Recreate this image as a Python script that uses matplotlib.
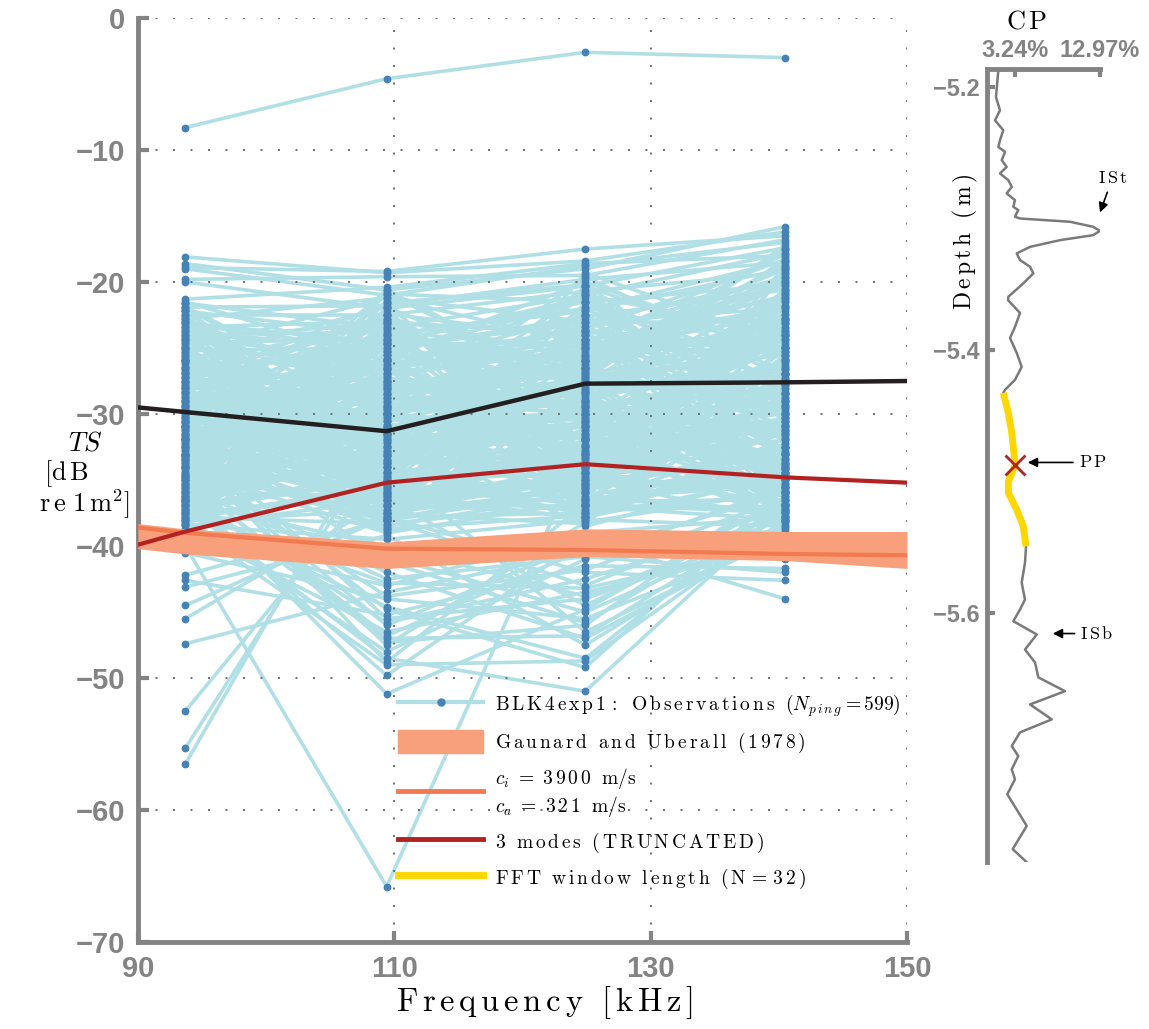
import numpy as np
import matplotlib
matplotlib.use("Agg")
import matplotlib.pyplot as plt
from matplotlib.lines import Line2D
from matplotlib.patches import Patch

plt.rcParams["mathtext.fontset"] = "cm"

GREY = "#838383"
OBS = "#b0e0e6"
DOT = "#4682b4"
BAND = "#f7a07b"
BAND_LINE = "#f27a50"
RED = "#b22222"
BLACK = "#231f20"
YELLOW = "#ffd700"

# measurement frequencies (kHz)
freqs = [93.7, 109.4, 124.9, 140.5]

# TS per ping (dB re 1 m^2), one array per frequency
ts_f1 = [-8.3, -18.1, -18.6, -18.9, -19.0, -19.8, -20.0, -21.3, -21.6, -21.9, -22.2,
         -22.5, -22.8, -23.1, -23.4, -23.7, -24.0, -24.3, -24.6, -24.9, -25.2,
         -25.5, -25.8, -26.1, -26.4, -26.7, -27.0, -27.3, -27.6, -27.9, -28.2,
         -28.5, -28.8, -29.1, -29.4, -29.7, -30.0, -30.3, -30.6, -30.9, -31.2,
         -31.5, -31.8, -32.1, -32.4, -32.7, -33.0, -33.3, -33.6, -33.9, -34.2,
         -34.5, -34.8, -35.1, -35.4, -35.7, -36.0, -36.3, -36.6, -36.9, -37.2,
         -37.5, -37.8, -38.1, -38.4, -25.3, -26.9, -28.0, -29.3, -30.7, -32.3,
         -33.8, -35.3, -36.8, -31.0, -34.0, -39.0, -39.5, -40.0, -40.5, -42.2,
         -42.6, -43.1, -44.5, -45.5, -47.4, -52.5, -55.3, -56.5, -38.7, -37.9,
         -38.3, -36.5, -35.8, -37.0, -34.9, -36.2, -33.5, -37.6, -35.5, -38.9,
         -32.6, -34.6, -36.7, -33.2,
         -22.0, -23.5, -25.0, -26.5, -28.0, -29.5, -31.0, -32.5, -34.0, -35.5,
         -37.0, -38.5, -21.5, -23.0, -24.5, -26.0, -27.5, -29.0, -30.5, -32.0,
         -33.5, -35.0, -36.5, -38.0, -22.7, -24.2, -25.7, -27.2, -28.7, -30.2,
         -31.7, -33.2, -34.7, -36.2, -37.7, -23.8, -25.9, -28.3, -30.8, -33.1,
         -35.2, -37.3, -29.8, -27.7, -31.9, -36.4,
         -34.0, -31.5, -36.0, -33.0, -37.4, -35.0, -30.5,
         -21.7, -22.4, -23.3, -24.1, -24.8, -25.6, -26.2, -27.1, -27.8, -28.6,
         -29.2, -30.1, -30.9, -31.6, -32.2, -33.1, -33.7, -34.5, -35.3, -36.1,
         -36.9, -37.6, -38.2, -21.9, -22.9, -23.6, -24.4, -25.4, -26.0, -26.8,
         -27.5, -28.3, -29.0, -29.9, -30.4, -31.3, -32.0, -32.8, -33.5, -34.3,
         -34.9, -35.8, -36.6, -37.3, -38.3, -22.2, -23.0, -23.9, -24.6, -25.1,
         -26.4, -27.3, -28.0, -28.9, -29.6, -30.6, -31.1, -31.9, -32.6, -33.3,
         -34.1, -34.8, -35.6, -36.3, -37.1, -37.9, -22.6, -24.3, -25.9, -27.6,
         -29.4, -31.4, -33.0, -34.6, -36.4, -38.0, -23.2, -25.0, -26.6, -28.4,
         -30.2, -32.4, -34.0, -35.9, -37.4, -22.1, -26.9, -31.8, -36.7, -29.7]
ts_f2 = [-4.6, -19.3, -20.6, -19.2, -21.0, -19.6, -22.0, -20.4, -23.5, -21.8, -24.0,
         -22.5, -21.2, -24.6, -23.0, -25.2, -23.8, -25.8, -24.3, -26.4, -25.0,
         -27.0, -28.5, -26.0, -29.5, -27.6, -31.0, -28.2, -30.3, -29.0, -32.0,
         -28.8, -33.0, -30.0, -34.0, -31.5, -35.0, -32.5, -35.8, -33.5, -36.5,
         -34.5, -37.0, -35.5, -37.5, -36.0, -38.0, -36.8, -38.5, -37.8, -39.0,
         -26.5, -28.0, -29.8, -31.8, -33.8, -25.5, -27.3, -30.8, -32.8, -34.8,
         -36.3, -38.3, -37.3, -39.5, -33.2, -35.3, -36.6, -24.8, -26.2, -27.8,
         -29.3, -30.5, -32.2, -33.7, -24.3, -41.5, -43.0, -65.8, -44.0, -38.0,
         -45.2, -39.2, -37.8, -36.5, -43.5, -34.0, -31.5, -30.0, -46.5, -48.0,
         -49.0, -49.8, -51.2, -48.5, -47.3, -45.8, -46.0, -44.6, -42.5, -40.8,
         -48.8, -42.0, -40.0, -47.5,
         -30.0, -32.5, -35.0, -37.0, -22.5, -24.5, -26.5, -28.5, -30.5, -32.5,
         -34.5, -36.5, -26.0, -28.0, -30.0, -32.0, -34.0, -36.0, -38.0, -23.5,
         -25.5, -27.5, -29.5, -31.5, -33.5, -35.5, -37.5, -22.8, -24.0, -25.8,
         -27.7, -29.6, -31.6, -33.6, -35.6, -37.6, -21.9, -23.2, -36.2, -38.8,
         -20.9, -34.9, -37.9, -21.6, -27.1, -30.9,
         -43.8, -45.5, -47.0, -44.8, -42.8, -46.8, -41.2,
         -38.6, -37.8, -37.0, -36.1, -35.4, -34.6, -33.7, -32.9, -32.1, -31.2,
         -30.5, -29.6, -28.8, -28.0, -27.2, -26.3, -25.5, -24.7, -23.9, -23.0,
         -22.2, -21.4, -20.8, -29.4, -30.2, -31.0, -31.9, -32.7, -33.5, -34.3,
         -35.1, -36.0, -36.8, -37.6, -38.4, -21.6, -22.5, -23.3, -24.1, -25.0,
         -25.8, -26.6, -27.4, -28.3, -29.0, -34.0, -35.7, -37.3, -38.9, -21.2,
         -22.8, -24.4, -26.0, -27.6, -29.2, -30.8, -32.4, -33.1, -34.8, -36.4,
         -38.1, -22.0, -23.6, -25.3, -26.9, -28.5, -36.9, -23.1, -33.2, -26.7,
         -30.1, -38.0, -24.6, -31.5, -27.9, -35.3, -25.2, -37.4, -28.7, -22.4,
         -34.4, -31.7, -20.6, -36.2, -29.9, -33.0, -38.7, -22.9, -27.0, -35.8]
ts_f3 = [-2.6, -18.4, -19.0, -17.5, -18.8, -19.5, -20.3, -18.6, -21.0, -19.8, -22.2,
         -20.7, -23.0, -21.5, -24.0, -22.6, -25.0, -23.6, -26.0, -24.4, -26.8,
         -25.2, -27.5, -25.8, -28.2, -26.4, -29.0, -27.0, -30.0, -27.8, -31.0,
         -28.6, -29.5, -31.8, -30.5, -32.5, -31.2, -33.3, -32.0, -34.0, -33.0,
         -34.8, -33.8, -35.5, -34.5, -36.2, -35.2, -37.0, -36.0, -37.5, -36.6,
         -24.8, -26.6, -28.9, -30.8, -32.8, -27.3, -29.8, -31.6, -33.6, -35.8,
         -37.3, -36.8, -35.0, -38.0, -34.3, -36.4, -37.8, -23.0, -25.5, -27.2,
         -28.4, -30.2, -32.3, -29.2, -35.3, -40.2, -39.0, -32.4, -45.5, -43.0,
         -41.5, -47.5, -42.0, -44.5, -40.5, -46.5, -38.5, -37.8, -43.5, -41.0,
         -48.7, -39.5, -44.8, -51.0, -46.0, -42.5, -39.8, -48.5, -40.8, -45.0,
         -36.8, -47.0, -43.8, -38.2,
         -24.5, -27.0, -29.5, -32.0, -34.5, -37.0, -22.5, -25.0, -27.5, -30.0,
         -32.5, -35.0, -32.0, -34.5, -37.5, -24.0, -26.5, -29.0, -31.5, -34.0,
         -36.5, -23.3, -26.0, -28.3, -30.6, -33.0, -35.6, -37.8, -22.0, -24.3,
         -26.8, -29.3, -31.8, -34.2, -36.8, -38.3, -28.0, -30.9, -33.2, -25.6,
         -21.5, -23.8, -36.0, -20.2, -35.4, -30.4,
         -41.8, -44.0, -46.8, -49.2, -43.2, -40.2, -45.8,
         -27.9, -31.4, -34.8, -37.9, -20.3, -23.6, -26.7, -30.0, -33.3, -36.6,
         -19.6, -22.8, -25.9, -29.1, -32.4, -35.7, -21.4, -24.6, -27.6, -30.7,
         -33.9, -37.2, -28.5, -36.3, -33.5, -30.3, -27.1, -24.0, -20.8, -37.6,
         -34.4, -31.2, -28.1, -24.9, -21.9, -35.1, -32.0, -29.3, -26.2, -23.1,
         -20.0, -33.0, -29.7, -26.3, -22.4, -20.6, -21.6, -22.6, -23.7, -24.7,
         -25.7, -26.5, -27.5, -28.8, -29.9, -30.9, -31.8, -32.7, -33.7, -34.6,
         -35.5, -36.4, -37.4, -38.0, -25.1, -31.0, -19.3, -37.0, -23.4, -34.1,
         -27.3, -30.5, -21.2, -35.9, -26.0, -32.9, -36.9, -22.1, -29.5, -24.3,
         -33.1, -20.4, -28.3, -35.3, -31.6, -25.4, -37.7, -30.1, -21.0, -34.9]
ts_f4 = [-3.0, -16.2, -15.8, -16.5, -17.0, -16.8, -17.4, -18.0, -17.8, -18.5, -19.0,
         -19.3, -19.8, -20.2, -19.6, -20.6, -21.0, -18.3, -21.5, -22.0, -20.0,
         -22.5, -23.0, -23.8, -24.5, -22.8, -25.3, -24.0, -26.0, -25.0, -27.0,
         -26.5, -28.0, -27.5, -29.0, -28.5, -30.0, -29.5, -31.0, -30.5, -32.0,
         -31.5, -33.0, -32.5, -34.0, -33.5, -35.0, -34.5, -35.5, -36.0, -36.5,
         -27.8, -29.8, -31.8, -33.8, -35.8, -24.3, -26.3, -28.3, -30.3, -32.3,
         -37.0, -37.5, -38.0, -38.5, -36.8, -37.3, -34.8, -22.0, -23.5, -25.5,
         -27.3, -29.3, -31.3, -33.3, -35.3, -38.8, -37.8, -30.8, -39.5, -36.8,
         -41.7, -38.2, -42.6, -37.3, -36.0, -39.2, -34.5, -33.0, -40.0, -35.5,
         -38.0, -44.0, -36.3, -37.0, -35.2, -37.7, -41.0, -36.6, -42.0, -38.4,
         -34.2, -39.0, -37.9, -35.8,
         -33.0, -30.0, -27.0, -24.0, -29.5, -32.5, -35.5, -21.8, -24.8, -27.8,
         -30.8, -33.8, -37.8, -26.0, -28.8, -31.5, -34.5, -37.5, -23.2, -25.8,
         -28.5, -31.2, -34.2, -37.2, -20.8, -22.8, -25.0, -27.0, -29.0, -31.0,
         -33.0, -35.0, -37.0, -20.5, -23.6, -26.6, -36.2, -34.0, -21.2, -24.1,
         -27.6, -32.8, -18.8, -30.5, -25.2, -33.6,
         -36.4, -38.6, -37.4, -35.6, -39.8, -40.6, -36.9,
         -17.2, -36.2, -21.8, -31.9, -25.6, -28.9, -18.6, -35.0, -23.1, -33.4,
         -26.9, -30.3, -19.9, -37.7, -24.3, -32.6, -27.8, -17.9, -34.4, -22.4,
         -29.6, -20.7, -36.8, -23.7, -26.4, -29.1, -31.7, -34.7, -37.4, -19.2,
         -21.4, -24.9, -27.3, -30.0, -32.9, -35.6, -38.2, -18.2, -20.3, -22.9,
         -25.3, -28.4, -31.2, -33.9, -36.5, -32.2, -29.9, -27.5, -25.0, -22.2,
         -19.6, -17.5, -37.1, -34.9, -32.5, -30.6, -28.1, -25.8, -23.4, -21.1,
         -18.9, -35.4, -33.1, -26.1, -20.1, -36.0, -24.6, -38.0, -21.3, -30.9,
         -17.6, -34.2, -27.0, -19.4, -36.9, -29.3, -31.4, -18.4, -26.7, -35.9,
         -22.7, -33.7, -20.9, -28.7, -37.3, -19.0, -25.5, -34.6, -23.9, -30.2]

# model curves
model_freq = [90, 93.7, 109.4, 124.9, 140.5, 150]
ts_black = [-29.5, -29.85, -31.3, -27.7, -27.6, -27.5]
ts_modes3 = [-39.9, -38.9, -35.2, -33.8, -34.8, -35.2]
gu_mid = [-38.6, -39.0, -40.2, -40.3, -40.6, -40.7]
gu_hi = [-38.3, -38.7, -39.7, -38.7, -38.9, -38.9]
gu_lo = [-40.2, -40.6, -41.7, -40.8, -41.1, -41.7]

# CP profile (percent vs depth in m)
cp_pct = [1.30, 1.03, 1.49, 0.92, 1.87, 1.49, 1.30, 2.07, 1.69, 2.26, 1.49, 2.45,
          2.84, 2.26, 3.21, 3.02, 3.59, 3.21, 3.79, 9.53, 12.17, 12.97, 12.17, 8.38,
          4.94, 3.41, 3.79, 4.94, 5.32, 4.17, 2.45, 2.41, 3.79, 3.21, 2.64, 3.41,
          3.98, 3.21, 2.07, 1.87, 2.45, 2.84, 3.24, 2.45, 2.45, 3.41, 4.17, 4.48,
          4.36, 3.98, 4.36, 3.79, 3.02, 5.71, 4.36, 5.51, 5.89, 8.95, 4.94, 7.43,
          3.79, 2.84, 3.59, 2.84, 3.21, 2.33, 4.56, 2.95, 4.56]
cp_depth = [-5.187, -5.2074, -5.2175, -5.2251, -5.2327, -5.2403, -5.2454, -5.2492,
            -5.2555, -5.2606, -5.2656, -5.2707, -5.2758, -5.2808, -5.2859, -5.2910,
            -5.2935, -5.2986, -5.2999, -5.3024, -5.3062, -5.3093, -5.3126, -5.3164,
            -5.3215, -5.3265, -5.3316, -5.3367, -5.3417, -5.3493, -5.3595, -5.3620,
            -5.3719, -5.3825, -5.3909, -5.4023, -5.4129, -5.4228, -5.4304, -5.4327,
            -5.4479, -5.4631, -5.4875, -5.5002, -5.5088, -5.5217, -5.5344, -5.5496,
            -5.5620, -5.5772, -5.5901, -5.5977, -5.6066, -5.6167, -5.6282, -5.6380,
            -5.6494, -5.6599, -5.6700, -5.6814, -5.6913, -5.7017, -5.7093, -5.7194,
            -5.7270, -5.7384, -5.7625, -5.7802, -5.7902]
fft_top, fft_bottom = -5.4327, -5.5496
pp_pct, pp_depth = 3.24, -5.4875
n_ping = 599


def tracked(s):
    # letter-spaced roman text for mathtext
    out = []
    for ch in s:
        out.append(r"\ " if ch == " " else ch)
    return r"\,".join(out)


def rm(s):
    return r"$\mathrm{" + tracked(s) + "}$"


fig = plt.figure(figsize=(11.49, 10.29), dpi=100)
ax = fig.add_axes([0.1201, 0.0845, 0.6693, 0.898])

ts = np.column_stack([ts_f1, ts_f2, ts_f3, ts_f4])
ax.plot(freqs, ts.T, color=OBS, lw=2.6, zorder=1, solid_capstyle="round")
ax.plot(freqs, ts.T, ls="none", marker="o", ms=4.6, color=DOT, zorder=2)

ax.fill_between(model_freq, gu_lo, gu_hi, color=BAND, lw=0, zorder=3)
ax.plot(model_freq, gu_mid, color=BAND_LINE, lw=3, zorder=4)
ax.plot(model_freq, ts_modes3, color=RED, lw=3, zorder=5)
ax.plot(model_freq, ts_black, color=BLACK, lw=3.2, zorder=6)

ax.set_xlim(90, 150)
ax.set_ylim(-70, 0)
ax.set_xticks([90, 110, 130, 150])
ax.set_yticks(range(-70, 1, 10))
ax.grid(True, color="#6e6e6e", lw=1.4, ls=(0, (1, 8)))
for s in ["top", "right"]:
    ax.spines[s].set_visible(False)
for s in ["left", "bottom"]:
    ax.spines[s].set_color(GREY)
    ax.spines[s].set_linewidth(3.5)
ax.tick_params(direction="in", length=8, width=3, color=GREY, labelcolor=GREY,
               labelsize=21, pad=9)
for lab in ax.get_xticklabels() + ax.get_yticklabels():
    lab.set_fontfamily("Liberation Sans")
    lab.set_fontweight("bold")

ax.set_xlabel(rm("Frequency [kHz]"), fontsize=23.5)
ax.xaxis.set_label_coords(0.529, -0.046)
fig.text(0.059, 0.569, r"$TS$", fontsize=19, ha="left", va="center")
fig.text(0.038, 0.540, r"$\mathrm{[d\,B}$", fontsize=19, ha="left", va="center")
fig.text(0.034, 0.510, r"$\mathrm{r\,e\ 1\,m^2]}$", fontsize=19, ha="left", va="center")

handles = [
    Line2D([], [], color=OBS, lw=3, marker="o", ms=5, mfc=DOT, mec=DOT),
    Patch(facecolor=BAND, edgecolor=BAND),
    Line2D([], [], color=BAND_LINE, lw=3.5),
    Line2D([], [], color=RED, lw=3.5),
    Line2D([], [], color=YELLOW, lw=5),
]
labels = [
    r"$\mathrm{" + tracked("BLK4exp1: Observations (") + r"}N_{p\,i\,n\,g}\mathrm{=" + str(n_ping) + ")}$",
    rm("Gaunard and Uberall (1978)"),
    r"$c_i\ =\ \mathrm{3\,9\,0\,0\ \ m/s}$" + "\n" + r"$c_a\ =\ \mathrm{3\,2\,1\ \ m/s}$",
    rm("3 modes (TRUNCATED)"),
    rm("FFT window length (N=32)"),
]
ax.legend(handles, labels, loc="upper left", bbox_to_anchor=(0.338, 0.270),
          frameon=False, fontsize=14, handlelength=4.4, handleheight=1.45,
          labelspacing=0.55, handletextpad=0.6, borderaxespad=0, borderpad=0,
          numpoints=1)

# CP profile panel
ax2 = fig.add_axes([0.859, 0.1623, 0.0984, 0.7707])
cp_pct_a = np.array(cp_pct)
cp_depth_a = np.array(cp_depth)
ax2.plot(cp_pct_a, cp_depth_a, color="#7a7a7a", lw=1.8, zorder=2)
win = (cp_depth_a <= fft_top) & (cp_depth_a >= fft_bottom)
ax2.plot(cp_pct_a[win], cp_depth_a[win], color=YELLOW, lw=5, zorder=3,
         solid_capstyle="butt")
ax2.plot(pp_pct, pp_depth, marker="x", ms=14, mew=2, color=RED, zorder=4)

ax2.set_xlim(0, 12.97)
ax2.set_ylim(-5.79, -5.186)
ax2.xaxis.tick_top()
ax2.set_xticks([3.24, 12.97])
ax2.set_xticklabels(["3.24%", "12.97%"])
ax2.set_yticks([-5.2, -5.4, -5.6])
ax2.set_yticklabels(["\u22125.2", "\u22125.4", "\u22125.6"])
for s in ["bottom", "right"]:
    ax2.spines[s].set_visible(False)
for s in ["left", "top"]:
    ax2.spines[s].set_color(GREY)
    ax2.spines[s].set_linewidth(3.5)
ax2.tick_params(direction="in", length=6, width=3, color=GREY, labelcolor=GREY,
                labelsize=17, pad=5)
for lab in ax2.get_xticklabels() + ax2.get_yticklabels():
    lab.set_fontfamily("Liberation Sans")
    lab.set_fontweight("bold")

fig.text(0.894, 0.979, rm("CP"), fontsize=19, ha="center", va="center")
fig.text(0.840, 0.765, rm("Depth (m)"), fontsize=17, ha="center", va="center",
         rotation=90)

arrow = dict(arrowstyle="-|>", color="k", lw=1.2, mutation_scale=14)
ax2.annotate(rm("ISt"), xy=(12.86, -5.2973), xytext=(14.4, -5.269),
             fontsize=13, ha="center", va="center", arrowprops=arrow,
             annotation_clip=False)
ax2.annotate(rm("PP"), xy=(4.36, -5.4857), xytext=(10.5, -5.4857),
             fontsize=13, ha="left", va="center", arrowprops=arrow,
             annotation_clip=False)
ax2.annotate(rm("ISb"), xy=(7.23, -5.616), xytext=(10.7, -5.616),
             fontsize=13, ha="left", va="center", arrowprops=arrow,
             annotation_clip=False)

fig.savefig("out.png", dpi=100)
